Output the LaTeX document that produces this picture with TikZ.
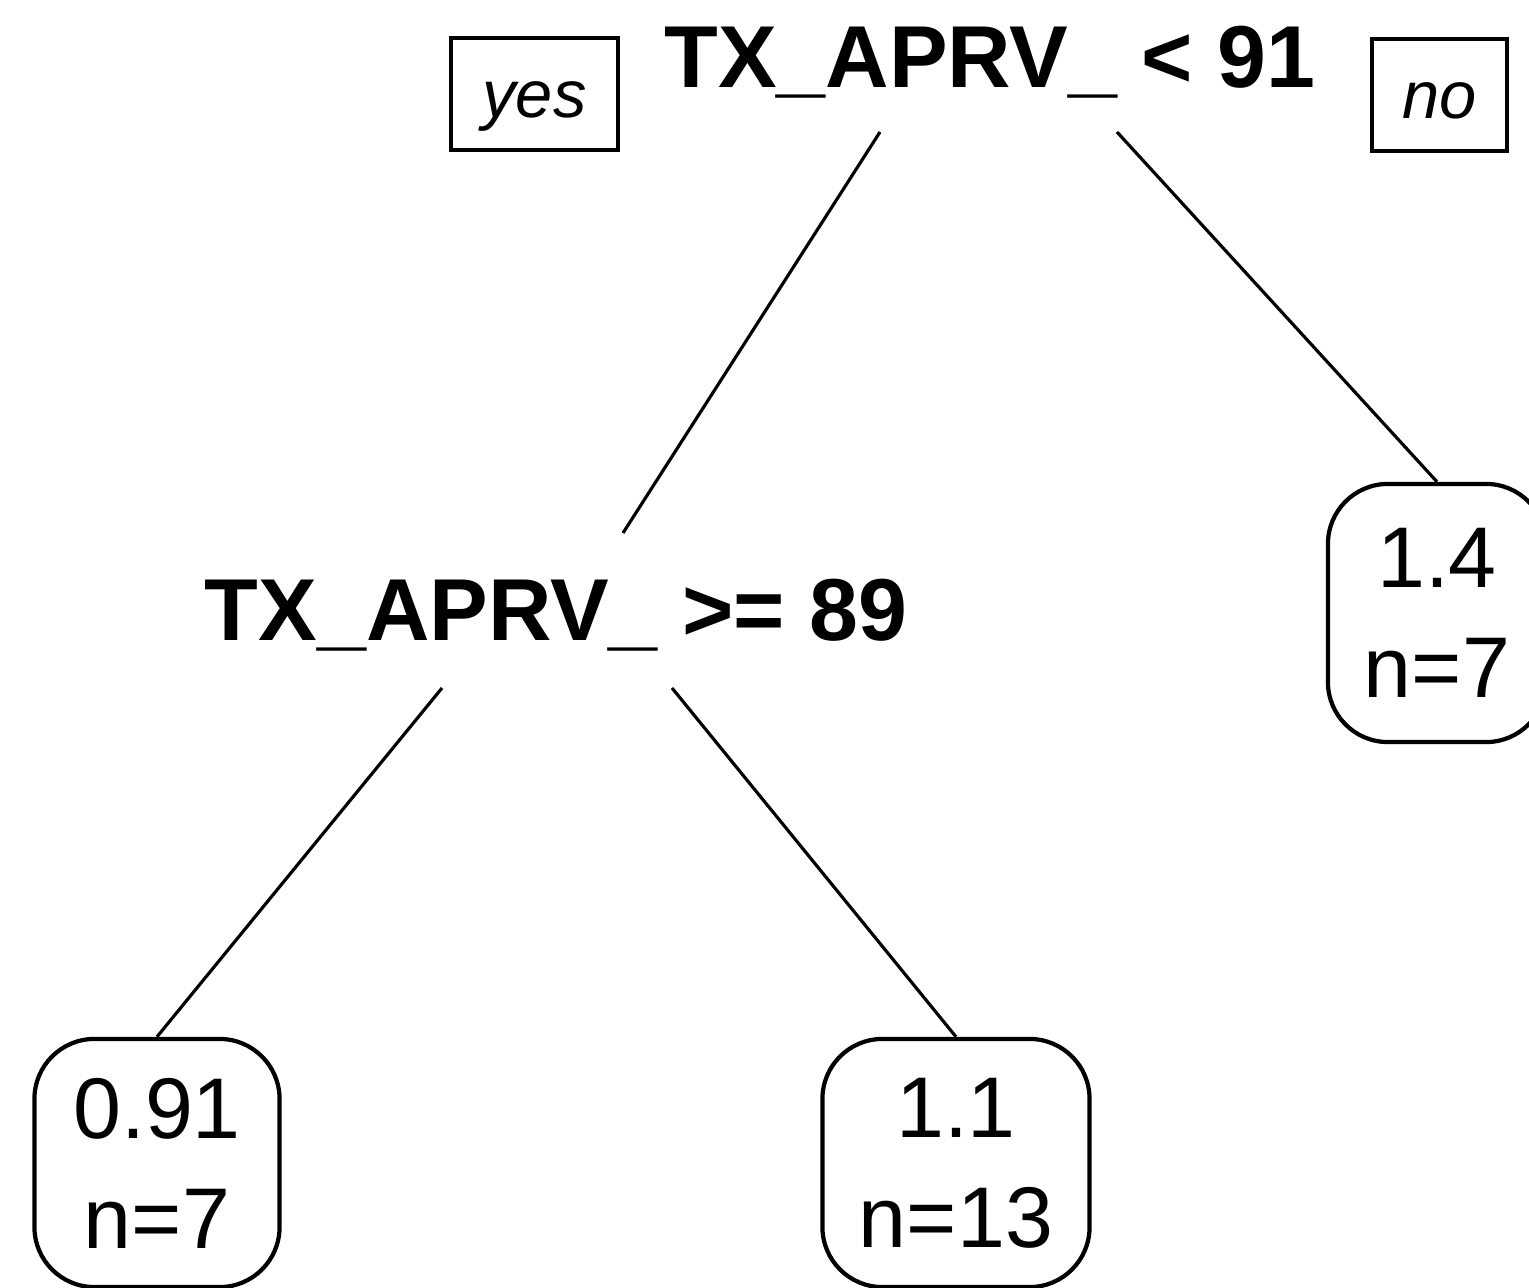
\documentclass[tikz,border=0pt]{standalone}
\usepackage{fontspec}
\setmainfont{Liberation Sans}
\tikzset{
  split/.style={font=\bfseries\fontsize{25}{30}\selectfont, inner sep=0pt, anchor=base},
  side/.style={draw, line width=1.3pt, font=\itshape\fontsize{19}{22}\selectfont, minimum height=1.12cm, text height=0.62cm, text depth=0.15cm},
  leaf/.style={draw, line width=1.2pt, rounded corners=0.6cm, align=center, font=\fontsize{24.5}{31.3}\selectfont},
  edge/.style={line width=0.9pt},
}
\begin{document}
\begin{tikzpicture}[x=0.01cm, y=-0.01cm]
	\useasboundingbox (0,0) rectangle (1529,1288);
	\clip (0,0) rectangle (1529,1288);
	\node[split] (root) at (990,88) {TX\_APRV\_ < 91};
	\node[side, minimum width=1.67cm] (yes) at (534.5,94) {yes};
	\node[side, minimum width=1.35cm] (no) at (1439.5,95) {no};
	\node[split] (sub) at (556,640) {TX\_APRV\_ >= 89};
	
	\node[leaf, minimum width=2.45cm, minimum height=2.48cm] (lo) at (157,1163) {0.91\\n=7};
	\node[leaf, minimum width=2.67cm, minimum height=2.48cm] (mid) at (956,1163) {1.1\\n=13};
	\node[leaf, minimum width=2.18cm, minimum height=2.58cm] (hi) at (1437,613) {1.4\\n=7};
	
	\coordinate (rootl) at (880,132);
	\coordinate (rootr) at (1117,132);
	\coordinate (subtop) at (623,533);
	\coordinate (subl) at (442,688);
	\coordinate (subr) at (672,688);
	
	\draw[edge] (rootl) -- (subtop);
	\draw[edge] (rootr) -- (hi.north);
	\draw[edge] (subl) -- (lo.north);
	\draw[edge] (subr) -- (mid.north);
\end{tikzpicture}
\end{document}
